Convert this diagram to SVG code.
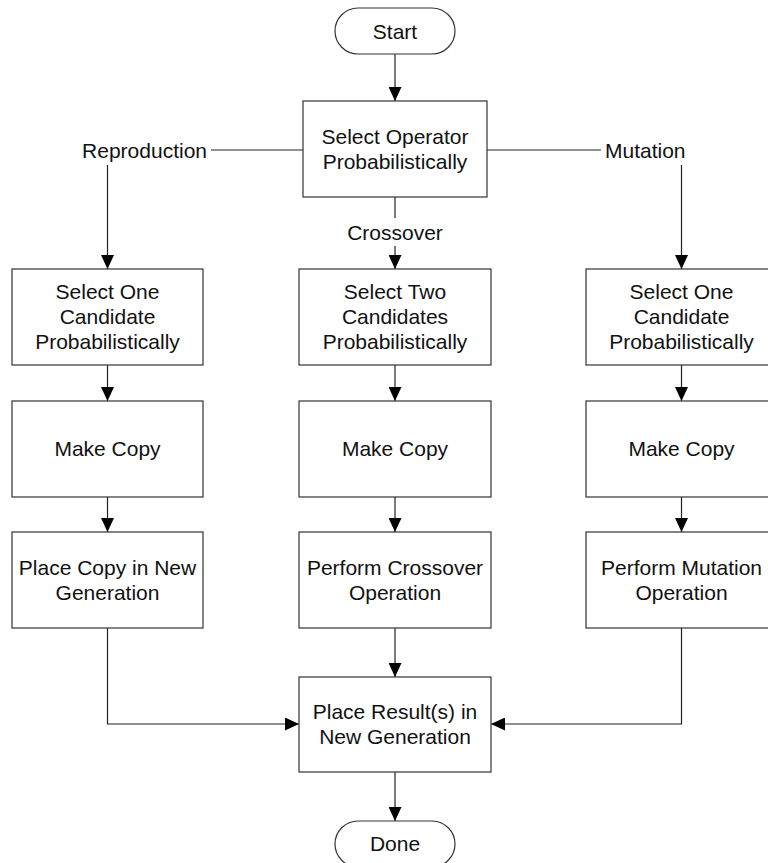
<svg xmlns="http://www.w3.org/2000/svg" width="768" height="863" viewBox="0 0 768 863">
  <style>
    .box { fill: #ffffff; stroke: #333333; stroke-width: 1.2; }
    .term { fill: #ffffff; stroke: #333333; stroke-width: 1.2; }
    .lbl { font-family: "Liberation Sans", Arial, sans-serif; font-size: 21px; fill: #111111; text-anchor: middle; }
    .side { font-family: "Liberation Sans", Arial, sans-serif; font-size: 21px; fill: #111111; }
    .wire { fill: none; stroke: #222222; stroke-width: 1.2; }
  </style>
  <defs>
    <marker id="arrow" markerWidth="14" markerHeight="13" refX="14" refY="6.5" orient="auto" markerUnits="userSpaceOnUse">
      <path d="M0,0 L14,6.5 L0,13 Z" fill="#000000"/>
    </marker>
  </defs>
  <rect width="768" height="863" fill="#ffffff"/>

  <g id="connectors">
    <line class="wire" x1="395" y1="54" x2="395" y2="101" marker-end="url(#arrow)"/>
    <!-- operator branches -->
    <line class="wire" x1="211" y1="150" x2="303" y2="150"/>
    <line class="wire" x1="487" y1="150" x2="601" y2="150"/>
    <line class="wire" x1="107.5" y1="165" x2="107.5" y2="269" marker-end="url(#arrow)"/>
    <line class="wire" x1="681.5" y1="165" x2="681.5" y2="269" marker-end="url(#arrow)"/>
    <line class="wire" x1="395" y1="197" x2="395" y2="218"/>
    <line class="wire" x1="395" y1="246" x2="395" y2="269" marker-end="url(#arrow)"/>
    <!-- column steps -->
    <line class="wire" x1="107.5" y1="365" x2="107.5" y2="401" marker-end="url(#arrow)"/>
    <line class="wire" x1="395" y1="365" x2="395" y2="401" marker-end="url(#arrow)"/>
    <line class="wire" x1="681.5" y1="365" x2="681.5" y2="401" marker-end="url(#arrow)"/>
    <line class="wire" x1="107.5" y1="497" x2="107.5" y2="532" marker-end="url(#arrow)"/>
    <line class="wire" x1="395" y1="497" x2="395" y2="532" marker-end="url(#arrow)"/>
    <line class="wire" x1="681.5" y1="497" x2="681.5" y2="532" marker-end="url(#arrow)"/>
    <!-- merge into result -->
    <polyline class="wire" points="107.5,628 107.5,724 299,724" marker-end="url(#arrow)"/>
    <polyline class="wire" points="681.5,628 681.5,724 491,724" marker-end="url(#arrow)"/>
    <line class="wire" x1="395" y1="628" x2="395" y2="677" marker-end="url(#arrow)"/>
    <line class="wire" x1="395" y1="772" x2="395" y2="821" marker-end="url(#arrow)"/>
    <text class="side" x="207" y="157.5" text-anchor="end">Reproduction</text>
    <text class="side" x="605" y="157.5">Mutation</text>
    <text class="lbl" x="395" y="239.5">Crossover</text>
  </g>

  <g id="start">
    <rect class="term" x="335" y="8" width="120" height="46" rx="23" ry="23"/>
    <text class="lbl" x="395" y="38.5">Start</text>
  </g>

  <g id="select-operator">
    <rect class="box" x="303" y="101" width="184" height="96"/>
    <text class="lbl" x="395" y="143.5">Select Operator</text>
    <text class="lbl" x="395" y="168.5">Probabilistically</text>
  </g>

  <g id="select-one-left">
    <rect class="box" x="12" y="269" width="191" height="96"/>
    <text class="lbl" x="107.5" y="299">Select One</text>
    <text class="lbl" x="107.5" y="324">Candidate</text>
    <text class="lbl" x="107.5" y="349">Probabilistically</text>
  </g>

  <g id="select-two">
    <rect class="box" x="299" y="269" width="192" height="96"/>
    <text class="lbl" x="395" y="299">Select Two</text>
    <text class="lbl" x="395" y="324">Candidates</text>
    <text class="lbl" x="395" y="349">Probabilistically</text>
  </g>

  <g id="select-one-right">
    <rect class="box" x="586" y="269" width="191" height="96"/>
    <text class="lbl" x="681.5" y="299">Select One</text>
    <text class="lbl" x="681.5" y="324">Candidate</text>
    <text class="lbl" x="681.5" y="349">Probabilistically</text>
  </g>

  <g id="copy-left">
    <rect class="box" x="12" y="401" width="191" height="96"/>
    <text class="lbl" x="107.5" y="456">Make Copy</text>
  </g>

  <g id="copy-middle">
    <rect class="box" x="299" y="401" width="192" height="96"/>
    <text class="lbl" x="395" y="456">Make Copy</text>
  </g>

  <g id="copy-right">
    <rect class="box" x="586" y="401" width="191" height="96"/>
    <text class="lbl" x="681.5" y="456">Make Copy</text>
  </g>

  <g id="place-copy">
    <rect class="box" x="12" y="532" width="191" height="96"/>
    <text class="lbl" x="107.5" y="574.5">Place Copy in New</text>
    <text class="lbl" x="107.5" y="599.5">Generation</text>
  </g>

  <g id="crossover-op">
    <rect class="box" x="299" y="532" width="192" height="96"/>
    <text class="lbl" x="395" y="574.5">Perform Crossover</text>
    <text class="lbl" x="395" y="599.5">Operation</text>
  </g>

  <g id="mutation-op">
    <rect class="box" x="586" y="532" width="191" height="96"/>
    <text class="lbl" x="681.5" y="574.5">Perform Mutation</text>
    <text class="lbl" x="681.5" y="599.5">Operation</text>
  </g>

  <g id="place-result">
    <rect class="box" x="299" y="677" width="192" height="95"/>
    <text class="lbl" x="395" y="719">Place Result(s) in</text>
    <text class="lbl" x="395" y="744">New Generation</text>
  </g>

  <g id="done">
    <rect class="term" x="335" y="821" width="120" height="46" rx="23" ry="23"/>
    <text class="lbl" x="395" y="851">Done</text>
  </g>
</svg>
